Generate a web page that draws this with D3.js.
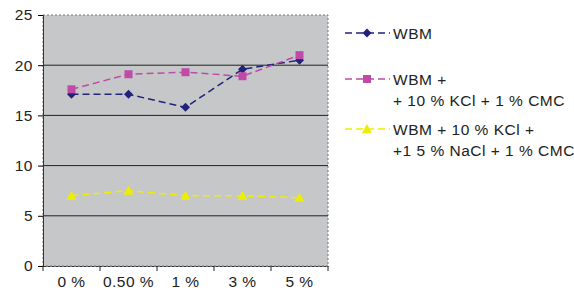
<!DOCTYPE html>
<html>
<head>
<meta charset="UTF-8">
<script src="https://d3js.org/d3.v7.min.js"></script>
<style>
  body { margin: 0; background: #fff; font-family: "Liberation Sans", Arial, sans-serif; }
  text { letter-spacing: 0.5px; }
</style>
</head>
<body>
<svg id="chart" width="574" height="290"></svg>
<script>
const categories = ["0 %", "0.50 %", "1 %", "3 %", "5 %"];
const wbm = [17.1, 17.1, 15.8, 19.6, 20.5];
const wbmKcl = [17.6, 19.1, 19.3, 18.9, 21.0];
const wbmKclNacl = [7.0, 7.5, 7.0, 7.0, 6.8];
const yTicks = [0, 5, 10, 15, 20, 25];

const series = [
  { values: wbm, color: "#22227a", shape: "diamond", label: ["WBM"], ly: 33 },
  { values: wbmKcl, color: "#c04aa8", shape: "square", label: ["WBM +", "+ 10 % KCl + 1 % CMC"], ly: 79 },
  { values: wbmKclNacl, color: "#eeee00", shape: "triangle", label: ["WBM + 10 % KCl +", "+1 5 % NaCl + 1 % CMC"], ly: 129 }
];

const svg = d3.select("#chart");
const m = { left: 43, right: 328, top: 15, bottom: 266 };
const fs = 15.5;

const x = d3.scaleBand().domain(categories).range([m.left, m.right]);
const y = d3.scaleLinear().domain([0, 25]).range([m.bottom, m.top]);

svg.append("rect")
  .attr("x", m.left).attr("y", m.top)
  .attr("width", m.right - m.left).attr("height", m.bottom - m.top)
  .attr("fill", "#c6c7c9")
  .attr("stroke", "#777").attr("stroke-dasharray", "2,2");

// gridlines
svg.append("g").selectAll("line")
  .data(yTicks.filter(d => d > 0 && d < 25))
  .join("line")
  .attr("x1", m.left).attr("x2", m.right)
  .attr("y1", d => y(d)).attr("y2", d => y(d))
  .attr("stroke", "#222").attr("stroke-width", 1);

const yAxis = svg.append("g")
  .attr("transform", `translate(${m.left},0)`)
  .call(d3.axisLeft(y).tickValues(yTicks).tickSize(5).tickPadding(5));
yAxis.selectAll("text").attr("font-size", fs).attr("fill", "#222")
  .attr("font-family", "Liberation Sans, Arial, sans-serif");
yAxis.select(".domain").attr("stroke", "#333");

const xAxis = svg.append("g")
  .attr("transform", `translate(0,${m.bottom})`)
  .call(d3.axisBottom(x).tickSize(0).tickPadding(10));
xAxis.selectAll("text").attr("font-size", fs).attr("fill", "#222")
  .attr("font-family", "Liberation Sans, Arial, sans-serif");
xAxis.select(".domain").attr("stroke", "#333").attr("stroke-dasharray", "3,1");
// tick marks at band edges
xAxis.append("g").selectAll("line")
  .data(categories.map(c => x(c)).concat([m.right]))
  .join("line")
  .attr("x1", d => d).attr("x2", d => d)
  .attr("y1", 0).attr("y2", 5)
  .attr("stroke", "#222");

const cx = c => x(c) + x.bandwidth() / 2;
const line = d3.line().x((d, i) => cx(categories[i])).y(d => y(d));

function marker(g, shape, color, px, py) {
  if (shape === "diamond") {
    g.append("path").attr("d", `M${px},${py - 4.5}L${px + 4.5},${py}L${px},${py + 4.5}L${px - 4.5},${py}Z`).attr("fill", color);
  } else if (shape === "square") {
    g.append("rect").attr("x", px - 4).attr("y", py - 4).attr("width", 8).attr("height", 8).attr("fill", color);
  } else {
    g.append("path").attr("d", `M${px},${py - 5}L${px + 5},${py + 4}L${px - 5},${py + 4}Z`).attr("fill", color);
  }
}

series.forEach(s => {
  svg.append("path")
    .attr("d", line(s.values))
    .attr("fill", "none")
    .attr("stroke", s.color).attr("stroke-width", 1.5)
    .attr("stroke-dasharray", "7,4");
  const g = svg.append("g");
  s.values.forEach((v, i) => marker(g, s.shape, s.color, cx(categories[i]), y(v)));

  // legend
  const lg = svg.append("g");
  lg.append("line").attr("x1", 345).attr("x2", 390).attr("y1", s.ly).attr("y2", s.ly)
    .attr("stroke", s.color).attr("stroke-width", 1.5).attr("stroke-dasharray", "7,4");
  marker(lg, s.shape, s.color, 367, s.ly);
  s.label.forEach((t, j) => {
    lg.append("text").attr("x", 393).attr("y", s.ly + 5.5 + j * 21)
      .attr("font-size", fs).attr("fill", "#222").text(t);
  });
});
</script>
</body>
</html>
